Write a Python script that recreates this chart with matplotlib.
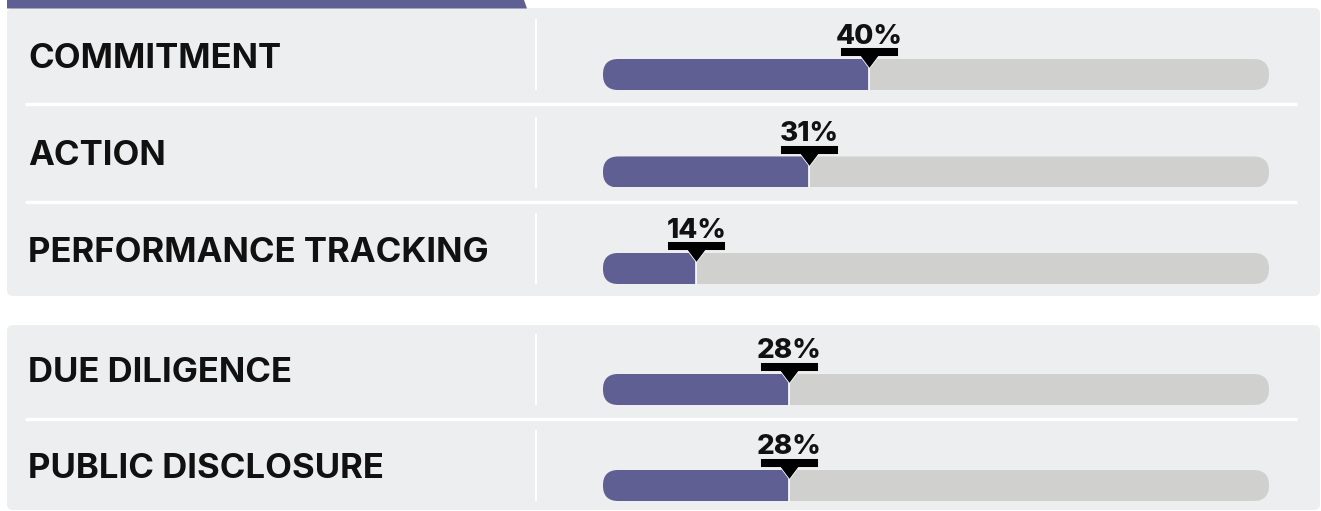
import matplotlib
matplotlib.use('Agg')
import matplotlib.pyplot as plt
from matplotlib.patches import FancyBboxPatch, Polygon
from matplotlib.path import Path

categories = ['COMMITMENT', 'ACTION', 'PERFORMANCE TRACKING', 'DUE DILIGENCE', 'PUBLIC DISCLOSURE']
values = [40, 31, 14, 28, 28]
value_labels = ['40%', '31%', '14%', '28%', '28%']

# layout in pixels, measured from the top edge
W, H = 1321, 511
row_y = [74.5, 172, 268.5, 389.5, 485.5]
panels = [(8, 296, [0, 1, 2]), (325, 510, [3, 4])]
bar_left, bar_width, bar_h = 603, 666, 31

PURPLE = '#5f5f94'
TRACK = '#d0d0ce'
PANEL = '#edeef0'
INK = '#111111'
FONT = 'Inter'

fig = plt.figure(figsize=(W / 100, H / 100), dpi=100)
fig.patch.set_facecolor('white')

bg = fig.add_axes([0, 0, 1, 1])
bg.set_xlim(0, W)
bg.set_ylim(H, 0)
bg.axis('off')

# grey panels with the purple header tab on top
for top, bottom, rows in panels:
    bg.add_patch(FancyBboxPatch((7, top), 1313, bottom - top,
                                boxstyle='round,pad=0,rounding_size=6',
                                fc=PANEL, ec='none'))
    for i in rows[:-1]:
        bg.plot([25, 1297], [row_y[i] + 30] * 2, color='white', lw=2.5,
                solid_capstyle='butt')
bg.add_patch(Polygon([(7, 0), (524, 0), (527, 8.5), (7, 8.5)], closed=True,
                     fc=PURPLE, ec='none'))

for cat, y in zip(categories, row_y):
    bg.plot([536, 536], [y - 55, y + 16], color='white', lw=1.5,
            solid_capstyle='butt')
    bg.text(28, y - 7, cat, ha='left', va='baseline', fontsize=25,
            fontweight='bold', family=FONT, color=INK)

# bar area: x in percent
bx = fig.add_axes([bar_left / W, 0, bar_width / W, 1])
bx.set_xlim(0, 100)
bx.set_ylim(H, 0)
bx.axis('off')

track = bx.barh(row_y, [100] * len(values), height=bar_h, color=TRACK, lw=0)
fill = bx.barh(row_y, values, height=bar_h, color=PURPLE, lw=0)

px_per_unit = bar_width / 100
radius = (bar_h / 2 - 0.1) / px_per_unit
for y, t, f in zip(row_y, track, fill):
    pill = FancyBboxPatch((0, y - bar_h / 2), 100, bar_h,
                          boxstyle=f'round,pad=0,rounding_size={radius}',
                          mutation_aspect=px_per_unit,
                          transform=bx.transData, fc='none', ec='none')
    t.set_clip_path(pill)
    f.set_clip_path(pill)

bx.vlines(values, [y - bar_h / 2 for y in row_y], [y + bar_h / 2 for y in row_y],
          color='white', lw=1.2)

# pointer: black plate with a downward notch, tip at the origin
pointer = Path([(0, 0), (9, 12), (29, 12), (29, 21), (-29, 21), (-29, 12),
                (-9, 12), (0, 0)], closed=True)
for v, lab, y in zip(values, value_labels, row_y):
    bx.plot(v, y - 6, marker=pointer, markersize=58 * 0.72, color='black',
            mec='white', mew=0.6, ls='none')
    bx.text(v, y - 31, lab, ha='center', va='baseline', fontsize=20,
            fontweight='heavy', family=FONT, color=INK)

fig.savefig('out.png', dpi=100, facecolor='white')
